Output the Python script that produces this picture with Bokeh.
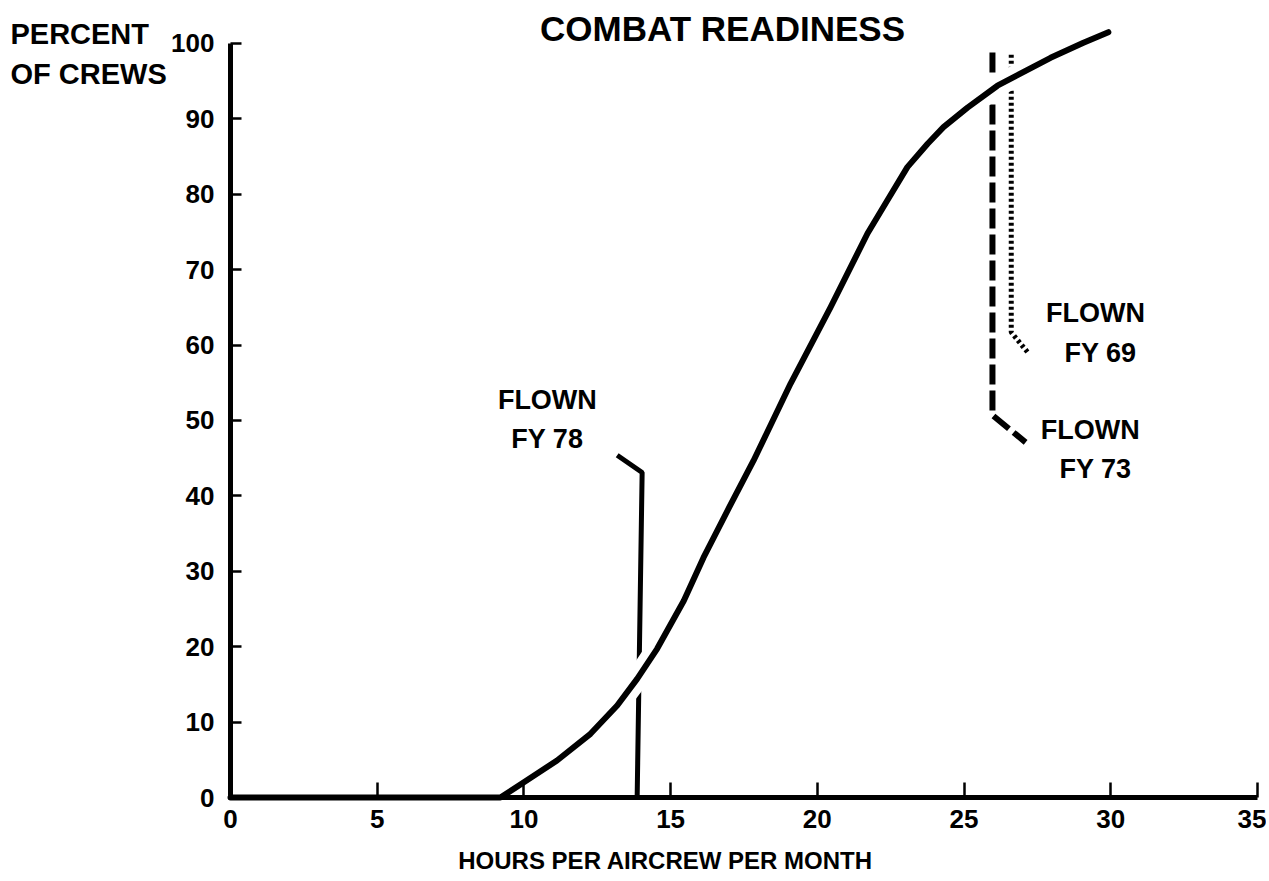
from bokeh.plotting import figure
from bokeh.models import Range1d, FixedTicker
from bokeh.core.properties import value
from bokeh.embed import file_html
from bokeh.resources import INLINE

# ---- data ----
curve_x = [0, 9.2, 10.0, 11.13, 12.27, 13.18, 13.86, 14.54, 15.45, 16.12, 17.0, 17.83,
           19.09, 20.45, 21.71, 22.39, 23.07, 23.76, 24.30, 25.12, 26.14, 27.95, 29.07, 29.92]
curve_y = [0, 0, 2.03, 4.91, 8.45, 12.2, 15.74, 19.72, 26.1, 31.8, 38.5, 44.7,
           54.9, 65.0, 74.8, 79.2, 83.6, 86.7, 88.9, 91.5, 94.4, 98.1, 100.1, 101.5]

fy78_x = [13.18, 14.03, 13.86]
fy78_y = [45.4, 43.1, 0]

fy73_x = [25.97, 25.97, 27.1]
fy73_y = [98.8, 50.7, 47.1]

fy69_x = [26.61, 26.61, 27.2]
fy69_y = [98.5, 61.7, 58.9]

x_ticks = [0, 5, 10, 15, 20, 25, 30, 35]
y_ticks = [0, 10, 20, 30, 40, 50, 60, 70, 80, 90, 100]

FONT = "Liberation Sans"

p = figure(width=1266, height=878,
           x_range=Range1d(-7.839, 35.31), y_range=Range1d(-10.74, 105.70),
           output_backend="svg", toolbar_location=None,
           min_border_left=0, min_border_right=0,
           min_border_top=0, min_border_bottom=0)
p.outline_line_color = None
p.grid.visible = False
p.background_fill_color = "white"
p.border_fill_color = "white"

for ax in (p.xaxis, p.yaxis):
    ax.fixed_location = 0
    ax.axis_line_width = 5
    ax.axis_line_color = "black"
    ax.major_tick_line_width = 2.5
    ax.major_tick_line_color = "black"
    ax.major_tick_out = 0
    ax.minor_tick_line_color = None
    ax.major_label_text_font = FONT
    ax.major_label_text_font_style = "bold"
    ax.major_label_text_font_size = "26px"
    ax.major_label_text_color = "black"

p.xaxis.ticker = FixedTicker(ticks=x_ticks)
p.yaxis.ticker = FixedTicker(ticks=y_ticks)
p.xaxis.bounds = (0, 35)
p.yaxis.bounds = (0, 100)
p.xaxis.major_tick_in = 15
p.yaxis.major_tick_in = 11
p.xaxis.major_label_standoff = 12
p.yaxis.major_label_standoff = 16

# vertical reference lines
p.line(fy78_x, fy78_y, line_width=5, line_color="black")
p.line(fy73_x, fy73_y, line_width=6, line_color="black", line_dash="20 6")
p.line(fy69_x, fy69_y, line_width=5, line_color="black", line_dash="3 3")

# white halo so the curve breaks the lines it crosses
p.line(curve_x[4:], curve_y[4:], line_width=22, line_color="white", line_join="round")
p.line(curve_x, curve_y, line_width=6, line_color="black", line_join="round", line_cap="round")

def txt(x, y, s, size, align="center", baseline="middle"):
    p.text(x=[x], y=[y], text=[s], text_font=value(FONT), text_font_style="bold",
           text_font_size=size, text_align=align, text_baseline=baseline, text_color="black")

txt(10.8, 52.7, "FLOWN", "27px")
txt(10.8, 47.6, "FY 78", "27px")
txt(29.48, 64.2, "FLOWN", "27px")
txt(29.65, 59.0, "FY 69", "27px")
txt(29.3, 48.7, "FLOWN", "27px")
txt(29.48, 43.6, "FY 73", "27px")

txt(16.77, 102.0, "COMBAT READINESS", "35px", baseline="alphabetic")
txt(-7.5, 101.3, "PERCENT", "29px", align="left", baseline="alphabetic")
txt(-7.5, 95.9, "OF CREWS", "29px", align="left", baseline="alphabetic")
txt(14.83, -8.3, "HOURS PER AIRCREW PER MONTH", "24px", baseline="middle")

open("out.html", "w").write(file_html(p, INLINE))
